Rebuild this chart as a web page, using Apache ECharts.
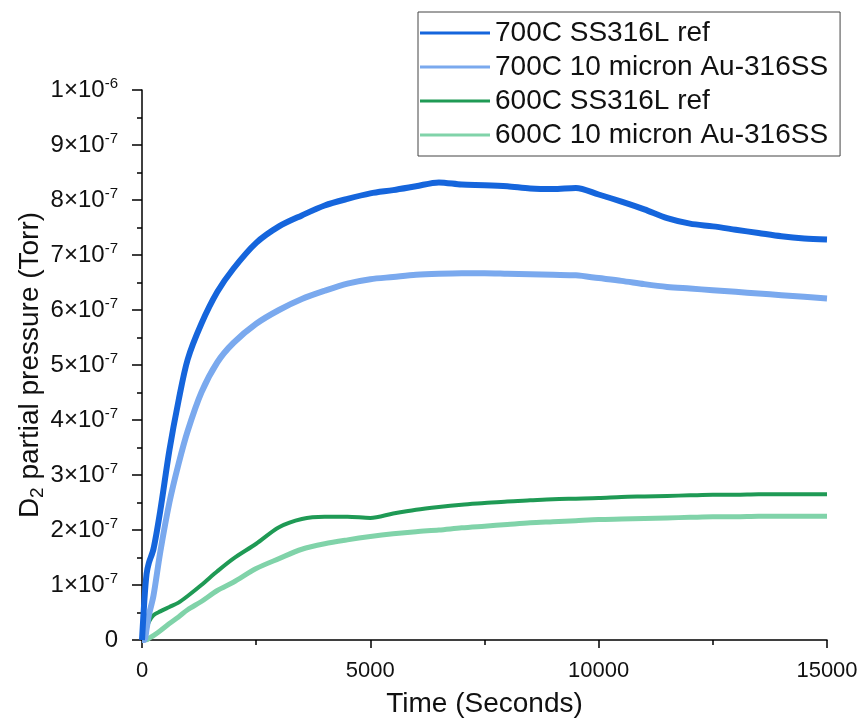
<!DOCTYPE html>
<html>
<head>
<meta charset="utf-8">
<script src="https://cdn.jsdelivr.net/npm/echarts@6/dist/echarts.min.js"></script>
<style>
  html, body { margin: 0; padding: 0; background: #fff; }
  #chart { width: 861px; height: 727px; }
</style>
</head>
<body>
<div id="chart"></div>
<script>
// time in seconds, pressure in units of 1e-7 Torr
var timeSec = [0, 50, 100, 150, 250, 400, 600, 800, 1000, 1300, 1650, 2000, 2500, 3000, 3500, 4000, 4500, 5000, 5500, 6000,
  6500, 7000, 7500, 8000, 8500, 9000, 9500, 10000, 10500, 11000, 11500, 12000, 12500, 13000, 13500, 14000, 14500, 15000];

var ref700 = [0, 0.7, 1.2, 1.4, 1.65, 2.35, 3.45, 4.35, 5.1, 5.75, 6.33, 6.75, 7.22, 7.52, 7.72, 7.9, 8.02, 8.12, 8.18, 8.25,
  8.32, 8.28, 8.27, 8.25, 8.21, 8.2, 8.22, 8.1, 7.97, 7.83, 7.67, 7.57, 7.52, 7.46, 7.4, 7.34, 7.3, 7.28];
var au700 = [0, 0, 0.2, 0.45, 0.8, 1.6, 2.5, 3.2, 3.8, 4.5, 5.05, 5.4, 5.75, 6.0, 6.2, 6.35, 6.48, 6.56, 6.6, 6.64,
  6.66, 6.67, 6.67, 6.66, 6.65, 6.64, 6.63, 6.58, 6.53, 6.47, 6.42, 6.39, 6.36, 6.33, 6.3, 6.27, 6.24, 6.21];
var ref600 = [0, 0.05, 0.2, 0.33, 0.45, 0.52, 0.6, 0.68, 0.8, 1.0, 1.25, 1.48, 1.75, 2.05, 2.2, 2.24, 2.24, 2.22, 2.3, 2.37,
  2.42, 2.46, 2.49, 2.52, 2.54, 2.56, 2.57, 2.58, 2.6, 2.61, 2.62, 2.63, 2.64, 2.64, 2.65, 2.65, 2.65, 2.65];
var au600 = [0, 0, 0, 0.03, 0.08, 0.17, 0.3, 0.42, 0.55, 0.7, 0.9, 1.05, 1.3, 1.48, 1.65, 1.75, 1.82, 1.88, 1.93, 1.97,
  2.0, 2.04, 2.07, 2.1, 2.13, 2.15, 2.17, 2.19, 2.2, 2.21, 2.22, 2.23, 2.24, 2.24, 2.25, 2.25, 2.25, 2.25];

var seriesNames = ['700C SS316L ref', '700C 10 micron Au-316SS', '600C SS316L ref', '600C 10 micron Au-316SS'];
var seriesColors = ['#1565dc', '#7aa9ee', '#1f9a55', '#80d3a9'];
var seriesWidths = [6, 6, 4, 5];
var seriesValues = [ref700, au700, ref600, au600];

var fontName = '"Liberation Sans", Arial, sans-serif';

function pairs(vals) {
  return timeSec.map(function (t, i) { return [t, vals[i]]; });
}

var dom = document.getElementById('chart');
var myChart = echarts.init(dom, null, { renderer: 'canvas' });

var option = {
  animation: false,
  grid: {
    left: 142,
    right: 34,
    top: 90,
    bottom: 87,
    outerBoundsMode: 'none'
  },
  legend: {
    orient: 'vertical',
    left: 418,
    top: 12,
    padding: [6, 12, 6, 2],
    itemGap: 4,
    itemWidth: 70,
    itemHeight: 3,
    icon: 'rect',
    borderColor: '#444',
    borderWidth: 1,
    selectedMode: false,
    data: seriesNames,
    textStyle: {
      fontFamily: fontName,
      fontSize: 28,
      lineHeight: 30,
      color: '#111'
    }
  },
  xAxis: {
    type: 'value',
    min: 0,
    max: 15000,
    interval: 5000,
    name: 'Time (Seconds)',
    nameLocation: 'middle',
    nameGap: 50,
    nameTextStyle: { fontFamily: fontName, fontSize: 28, color: '#111' },
    axisLine: { lineStyle: { color: '#000', width: 1.5 } },
    axisTick: { length: 8, lineStyle: { color: '#000', width: 1.5 } },
    minorTick: { show: true, splitNumber: 2, length: 5, lineStyle: { color: '#000', width: 1.5 } },
    splitLine: { show: false },
    axisLabel: {
      margin: 20,
      fontFamily: fontName,
      fontSize: 22,
      color: '#111',
      formatter: function (value) { return String(value); }
    }
  },
  yAxis: {
    type: 'value',
    min: 0,
    max: 10,
    interval: 1,
    name: '{a|D}{s|2}{a| partial pressure (Torr)}',
    nameLocation: 'middle',
    nameRotate: 90,
    nameGap: 95,
    nameMoveOverlap: false,
    nameTextStyle: {
      fontFamily: fontName,
      color: '#111',
      rich: {
        a: { fontFamily: fontName, fontSize: 28, color: '#111', lineHeight: 34 },
        s: { fontFamily: fontName, fontSize: 19, color: '#111', verticalAlign: 'bottom', padding: [10, 0, 0, 0], lineHeight: 34 }
      }
    },
    axisLine: { lineStyle: { color: '#000', width: 1.5 } },
    axisTick: { length: 10, lineStyle: { color: '#000', width: 1.5 } },
    minorTick: { show: true, splitNumber: 2, length: 5, lineStyle: { color: '#000', width: 1.5 } },
    splitLine: { show: false },
    axisLabel: {
      margin: 24,
      formatter: function (value) {
        var n = Math.round(value);
        if (n === 0) return '{b|0}';
        if (n === 10) return '{b|1×10}{e|-6}';
        return '{b|' + n + '×10}{e|-7}';
      },
      rich: {
        b: { fontFamily: fontName, fontSize: 24, color: '#111', lineHeight: 28 },
        e: { fontFamily: fontName, fontSize: 15, color: '#111', verticalAlign: 'top', lineHeight: 28, padding: [0, 0, 12, 0] }
      }
    }
  },
  series: seriesNames.map(function (name, k) {
    return {
      name: name,
      type: 'line',
      showSymbol: false,
      smooth: 0.3,
      data: pairs(seriesValues[k]),
      itemStyle: { color: seriesColors[k] },
      lineStyle: { color: seriesColors[k], width: seriesWidths[k] },
      z: 10 - k
    };
  })
};

if (option && typeof option === 'object') {
  myChart.setOption(option);
}

window.addEventListener('resize', myChart.resize);
</script>
</body>
</html>
